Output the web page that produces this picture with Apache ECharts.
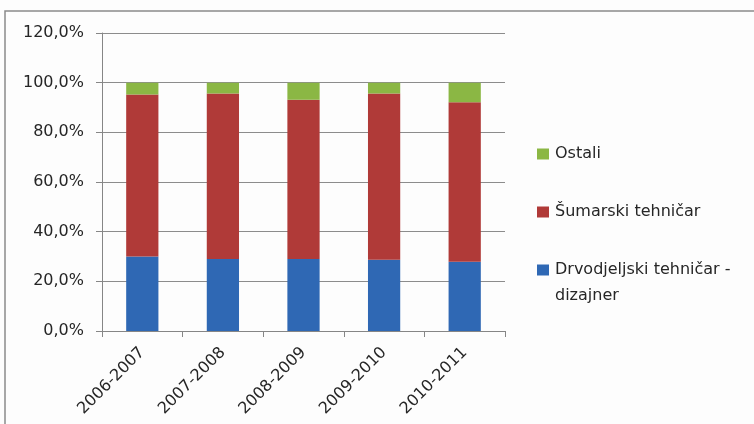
<!DOCTYPE html>
<html><head><meta charset="utf-8">
<script src="https://cdn.jsdelivr.net/npm/echarts@6/dist/echarts.min.js"></script>
<style>html,body{margin:0;padding:0;background:#fff}#c{width:754px;height:424px}</style>
</head><body><div id="c"></div>
<script>
const categories = ['2006-2007','2007-2008','2008-2009','2009-2010','2010-2011'];
const drvodjeljski = [30.0, 29.0, 29.0, 28.7, 27.9];
const sumarski = [65.2, 66.6, 64.1, 66.9, 64.2];
const ostali = [4.8, 4.4, 6.9, 4.4, 7.9];
const yTicks = [0, 20, 40, 60, 80, 100, 120];

const font = '"DejaVu Sans", sans-serif';
const chart = echarts.init(document.getElementById('c'), null, {renderer:'canvas'});
chart.setOption({
  backgroundColor: '#fdfdfd',
  animation: false,
  grid: {left: 102, right: 249, top: 33, bottom: 93},
  graphic: [
    {type:'rect', shape:{x:5, y:11, width:760, height:430}, style:{fill:'none', stroke:'#8a8a8a', lineWidth:1.5}, silent:true},
    {type:'text', left: 555, top: 288, style:{text:'dizajner', font:'16px ' + font, fill:'#262626'}}
  ],
  legend: {
    orient: 'vertical', left: 532, top: 141, itemWidth: 12, itemHeight: 11, itemGap: 42,
    icon: 'rect',
    textStyle: {fontFamily: font, fontSize: 16, color: '#262626', padding:[0,0,0,1]},
    data: ['Ostali', 'Šumarski tehničar', 'Drvodjeljski tehničar -']
  },
  xAxis: {
    type: 'category', data: categories,
    axisLine: {lineStyle: {color: '#868686'}},
    axisTick: {show: true, length: 6, lineStyle: {color: '#868686'}},
    axisLabel: {rotate: 45, fontFamily: font, fontSize: 16, color: '#262626', margin: 19}
  },
  yAxis: {
    type: 'value', min: 0, max: 120, interval: 20,
    axisLine: {show: true, lineStyle: {color: '#868686'}},
    axisTick: {show: true, length: 6, lineStyle: {color: '#868686'}},
    splitLine: {lineStyle: {color: '#8c8c8c', width: 1}},
    axisLabel: {fontFamily: font, fontSize: 16, color: '#262626', margin: 18,
      formatter: v => v.toFixed(1).replace('.', ',') + '%'}
  },
  series: [
    {name: 'Drvodjeljski tehničar -', type: 'bar', stack: 's', data: drvodjeljski, barWidth: '40%', itemStyle: {color: '#2f68b4'}},
    {name: 'Šumarski tehničar', type: 'bar', stack: 's', data: sumarski, itemStyle: {color: '#b03a38'}},
    {name: 'Ostali', type: 'bar', stack: 's', data: ostali, itemStyle: {color: '#8bb744'}}
  ]
});
</script></body></html>
